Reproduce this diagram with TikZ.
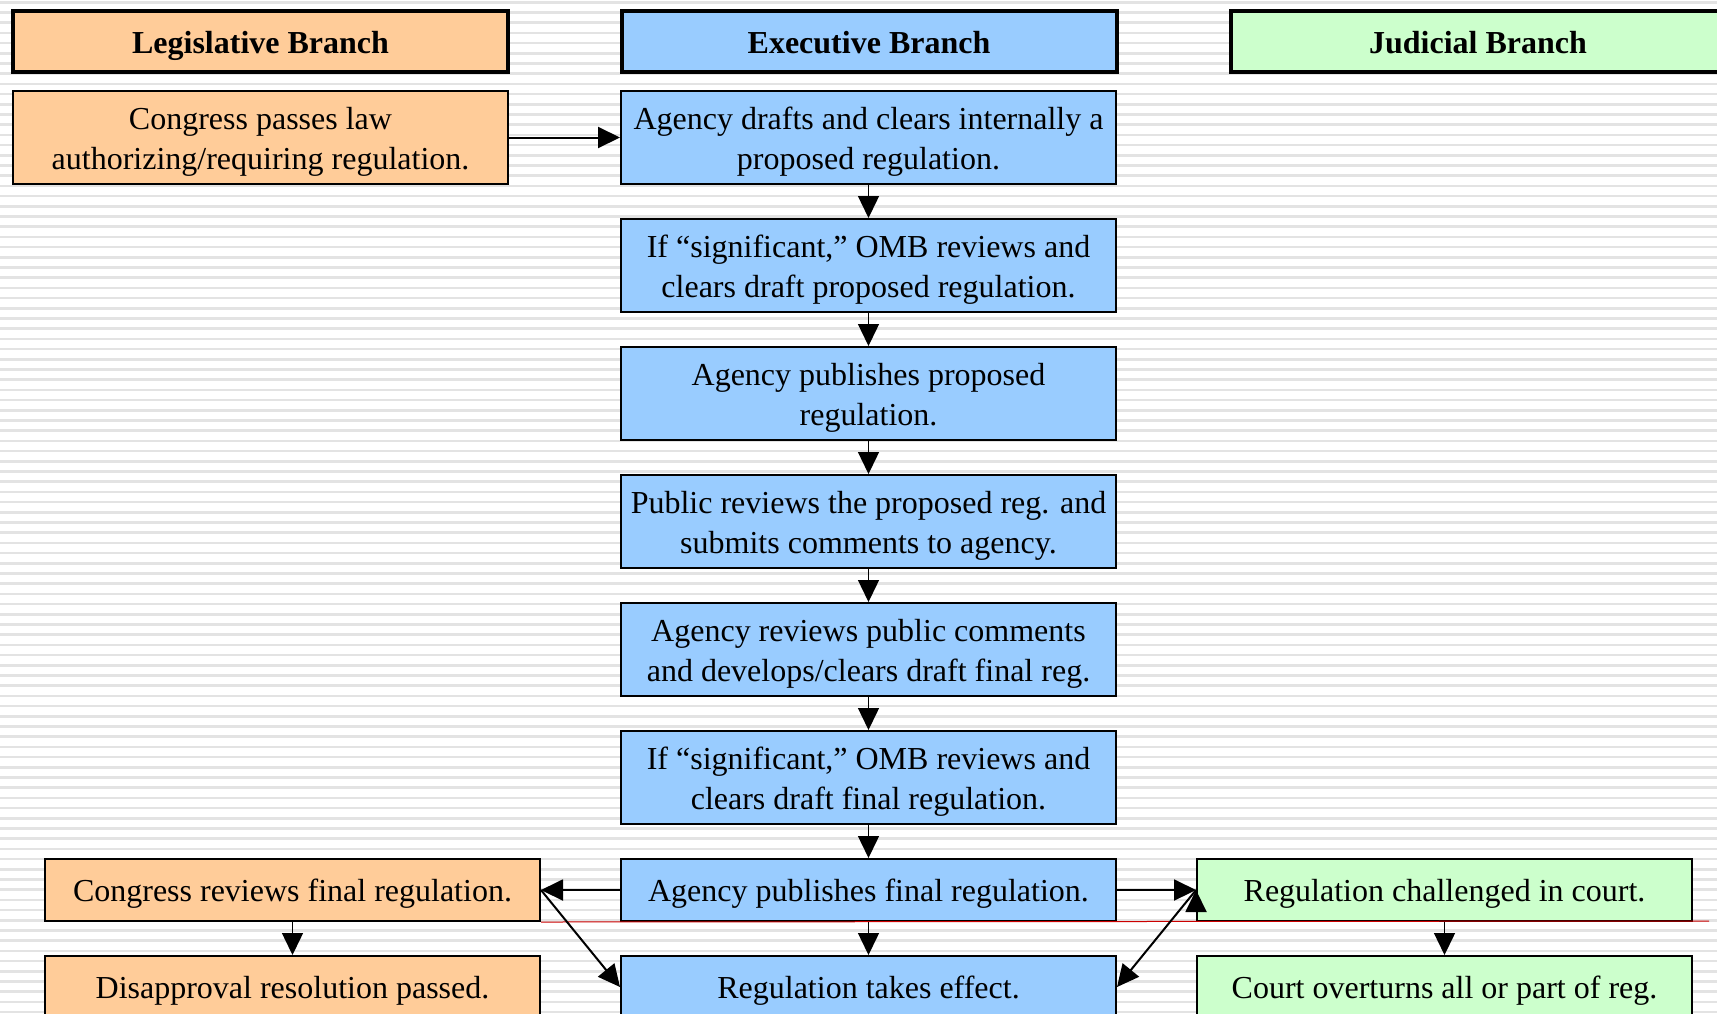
\documentclass[tikz,border=0pt]{standalone}
\usepackage{fontspec}
\setmainfont{Liberation Serif}
\usetikzlibrary{positioning, arrows.meta}
\definecolor{legfill}{HTML}{FFCC99}
\definecolor{exefill}{HTML}{99CCFF}
\definecolor{judfill}{HTML}{CCFFCC}
\tikzset{
  >={Triangle[length=11pt,width=10.5pt]},
  node distance=16.5pt,
  box/.style={draw, line width=1pt, minimum width=247.5pt, minimum height=46.5pt,
              align=center, inner sep=0pt, text height=35pt, text depth=3.5pt,
              font=\fontsize{16}{20}\selectfont},
  short/.style={minimum height=31pt, text height=13pt, text depth=1.5pt},
  hdr/.style={draw, line width=2pt, minimum width=247.5pt, minimum height=30.5pt,
              inner sep=0pt, text height=13pt, text depth=1.5pt,
              font=\fontsize{16}{20}\selectfont\bfseries},
  leg/.style={fill=legfill},
  exe/.style={fill=exefill},
  jud/.style={fill=judfill},
  stripe/.style={fill=black!11},
  link/.style={->, line width=1pt},
}

\begin{document}
\begin{tikzpicture}[x=0.5pt, y=-0.5pt]
      \useasboundingbox (0,0) rectangle (1717,1013);
      \fill[white] (0,0) rectangle (1717,1013);
      \foreach \k in {0,...,99}
        \fill[stripe] (0,{1+10.2*\k}) rectangle (1717,{3.5+10.2*\k});

      % column heads
      \node[hdr,leg] (lh) at (260.5,41.5) {Legislative Branch};
      \node[hdr,exe] (eh) at (869,41.5)   {Executive Branch};
      \node[hdr,jud] (jh) at (1478,41.5)  {Judicial Branch};

      \node[box,leg] (law) at (260.5,137.5) {Congress passes law\\authorizing/requiring regulation.};
      \node[box,exe,right=55.5pt of law] (draft) {Agency drafts and clears internally a\\proposed regulation.};
      \node[box,exe,below=of draft] (omb1) {If ``significant,'' OMB reviews and\\clears draft proposed regulation.};
      \node[box,exe,below=of omb1]  (pub)  {Agency publishes proposed\\regulation.};
      \node[box,exe,below=of pub]   (cmt)  {Public reviews the proposed reg. and\\submits comments to agency.};
      \node[box,exe,below=of cmt]   (rev)  {Agency reviews public comments\\and develops/clears draft final reg.};
      \node[box,exe,below=of rev]   (omb2) {If ``significant,'' OMB reviews and\\clears draft final regulation.};
      \node[box,short,exe,below=of omb2] (fin) {Agency publishes final regulation.};
      \node[box,short,exe,below=of fin]  (eff) {Regulation takes effect.};

      \node[box,short,leg,left=39.5pt of fin]  (crev) {Congress reviews final regulation.};
      \node[box,short,leg,below=of crev]       (dis)  {Disapproval resolution passed.};
      \node[box,short,jud,right=39.5pt of fin] (chal) {Regulation challenged in court.};
      \node[box,short,jud,below=of chal]       (ovr)  {Court overturns all or part of reg.};

      \draw[red!80!black, line width=0.5pt] (crev.south east) -- (1709,921);

      \draw[link] (law) edge (draft)
            (fin) edge (crev)
            (fin) edge (chal)
            (crev.east) edge (eff.west)
            (chal.west) edge (eff.east);
      \foreach \a/\b in {draft/omb1, omb1/pub, pub/cmt, cmt/rev, rev/omb2, omb2/fin, fin/eff, crev/dis, chal/ovr}
        \draw[link, line width=0.7pt] (\a) -- (\b);
\end{tikzpicture}
\end{document}
